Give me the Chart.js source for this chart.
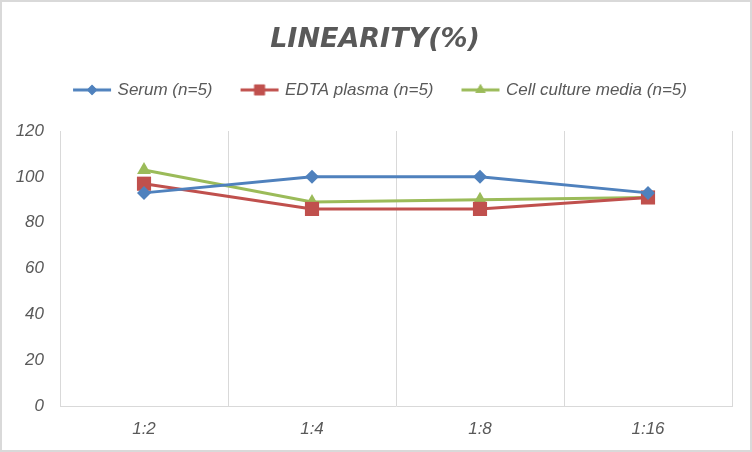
<!DOCTYPE html>
<html lang="en">
<head>
  <meta charset="UTF-8">
  <title>Linearity</title>
  <script src="https://cdn.jsdelivr.net/npm/chart.js"></script>
  <style>
    html, body { margin: 0; padding: 0; background: #fff; }
    .quadro { position: relative; width: 752px; height: 452px; box-sizing: border-box; border: 2px solid #d9d9d9; }
  </style>
</head>
<body>
  <div class="quadro">
    <canvas id="grafico"></canvas>
  </div>

  <script>
    // dados
    const diluicoes = ["1:2", "1:4", "1:8", "1:16"];
    const soro = [93, 100, 100, 93];
    const plasmaEdta = [97, 86, 86, 91];
    const meioCultura = [103, 89, 90, 91];
    const ticksY = [0, 20, 40, 60, 80, 100, 120];

    const cinza = "#595959";
    const fonte = "'Liberation Sans', sans-serif";

    // icone da legenda: linha com o marcador no meio
    function iconeLegenda(cor, estilo, raio) {
      const c = document.createElement("canvas");
      c.width = 40;
      c.height = 20;
      const ctx = c.getContext("2d");
      ctx.strokeStyle = cor;
      ctx.lineWidth = 3;
      ctx.beginPath();
      ctx.moveTo(1, 10);
      ctx.lineTo(39, 10);
      ctx.stroke();
      ctx.fillStyle = cor;
      Chart.helpers.drawPoint(ctx, { pointStyle: estilo, radius: raio, borderWidth: 0 }, 20, 10);
      ctx.fill();
      return c;
    }

    const series = [
      { label: "Serum (n=5)", data: soro, cor: "#4f81bd", estilo: "rectRot", raio: 7 },
      { label: "EDTA plasma (n=5)", data: plasmaEdta, cor: "#c0504d", estilo: "rect", raio: 10 },
      { label: "Cell culture media (n=5)", data: meioCultura, cor: "#9bbb59", estilo: "triangle", raio: 8 }
    ];

    // altura fixa da legenda e pequeno deslocamento do titulo/legenda para a direita
    const ajusteTopo = {
      id: "ajusteTopo",
      afterInit(chart) {
        const legenda = chart.legend;
        const fitOriginal = legenda.fit;
        legenda.fit = function () {
          fitOriginal.call(this);
          this.height = 79.6;
        };
      },
      afterLayout(chart) {
        chart.legend.left += 28;
        chart.titleBlock.left += 16;
      }
    };

    const ctx = document.getElementById("grafico").getContext("2d");
    new Chart(ctx, {
      type: "line",
      data: {
        labels: diluicoes,
        datasets: series.map(s => ({
          label: s.label,
          data: s.data,
          borderColor: s.cor,
          backgroundColor: s.cor,
          borderWidth: 3,
          pointStyle: s.estilo,
          pointRadius: s.raio,
          pointBorderWidth: 0,
          pointBackgroundColor: s.cor,
          tension: 0,
          icone: iconeLegenda(s.cor, s.estilo, s.raio * 0.75)
        }))
      },
      options: {
        responsive: true,
        maintainAspectRatio: false,
        animation: false,
        layout: { padding: { left: 0, right: 18, top: 0, bottom: 0 } },
        plugins: {
          title: {
            display: true,
            text: "LINEARITY(%)",
            color: cinza,
            font: { family: "'DejaVu Sans', sans-serif", size: 27, weight: "bold", style: "italic" },
            padding: { top: 22, bottom: -5 }
          },
          legend: {
            position: "top",
            labels: {
              color: cinza,
              font: { family: fonte, size: 17, style: "italic" },
              padding: 30,
              usePointStyle: true,
              pointStyleWidth: 34,
              generateLabels: chart => chart.data.datasets.map((ds, i) => ({
                text: ds.label,
                fontColor: cinza,
                pointStyle: ds.icone,
                datasetIndex: i,
                lineWidth: 0,
                hidden: false
              }))
            }
          },
          tooltip: { enabled: false }
        },
        scales: {
          x: {
            offset: true,
            grid: { offset: true, color: "#d9d9d9", drawTicks: false },
            border: { color: "#d9d9d9" },
            ticks: {
              color: cinza,
              font: { family: fonte, size: 17, style: "italic" },
              padding: 13
            },
            afterFit: escala => { escala.height = 44; }
          },
          y: {
            min: 0,
            max: 120,
            afterBuildTicks: escala => { escala.ticks = ticksY.map(v => ({ value: v })); },
            grid: { display: false, drawTicks: false },
            border: { display: false },
            ticks: {
              color: cinza,
              font: { family: fonte, size: 17, style: "italic" },
              padding: 16
            },
            afterFit: escala => { escala.width = 58; }
          }
        }
      },
      plugins: [ajusteTopo]
    });
  </script>
</body>
</html>
